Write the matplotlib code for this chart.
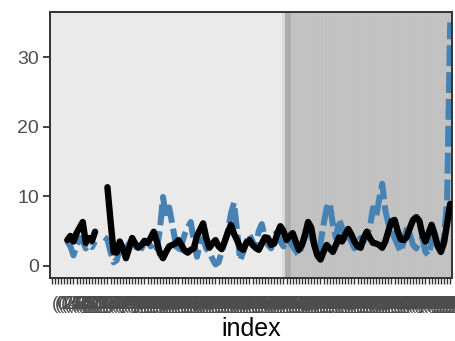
import numpy as np
import matplotlib
matplotlib.use("Agg")
import matplotlib.pyplot as plt

nan = np.nan
# index categories
index = list(range(130))
tick_labels = ["(%d,%d]" % (i, i + 1) for i in index]

black_vals = [nan, nan, nan, nan, nan,
    3.7, 4.3, 3.5, 4.7, 5.5, 6.3, 3.3, 4.0, 3.6, 4.9,
    nan, nan, nan,
    11.3, 6.5, 2.0, 1.9, 3.5, 2.5, 1.1, 2.5, 4.0, 3.2, 2.6, 3.0,
    3.6, 3.3, 4.0, 4.9, 3.5, 1.8, 1.1, 2.0, 2.8, 3.0,
    3.2, 3.7, 3.0, 2.2, 1.9, 2.3, 2.5, 4.3, 5.2, 6.1,
    4.0, 2.6, 3.2, 3.7, 2.8, 2.4, 3.5, 4.8, 5.9, 4.6,
    3.7, 2.6, 2.3, 3.3, 3.7, 3.0, 2.6, 2.3, 3.2, 4.1,
    4.0, 3.0, 3.2, 4.6, 5.7, 5.0, 3.7, 4.3, 4.7, 3.5,
    2.3, 3.0, 4.5, 6.3, 5.5, 3.0, 1.5, 0.9, 2.0, 3.0,
    2.5, 2.0, 3.0, 4.1, 3.5, 4.5, 5.3, 4.5, 3.5, 2.8,
    2.6, 4.0, 4.9, 4.0, 3.3, 3.2, 3.0, 2.6, 3.5, 5.0,
    6.4, 6.6, 5.0, 3.8, 3.7, 4.2, 5.5, 6.6, 7.0, 6.5,
    4.5, 3.5, 4.7, 5.9, 4.5, 2.8, 2.0, 3.3, 6.0, 8.9]

blue_vals = [nan, nan, nan, nan, nan,
    3.5, 2.8, 1.5, 3.0, 4.0, 3.5, 2.5, 3.0, 2.7, 3.5,
    nan, nan,
    4.1, 3.8, 2.0, 0.5, 0.8, 2.5, 3.0, 2.5, 3.2, 3.8, 3.0, 2.0, 2.5,
    3.3, 3.6, 2.8, 3.4, 2.5, 5.2, 9.9, 7.0, 8.4, 6.0,
    3.5, 1.8, 3.0, 4.5, 5.5, 6.3, 3.5, 1.3, 3.2, 4.0,
    2.5, 2.0, 1.0, 0.2, 0.5, 2.0, 3.5, 5.0, 7.5, 9.1,
    5.0, 0.8, 2.0, 3.5, 4.5, 3.5, 2.5, 5.0, 6.0, 4.0,
    3.0, 2.5, 4.5, 4.8, 3.5, 2.8, 4.0, 3.5, 2.8, 2.2,
    1.5, 3.0, 4.0, 5.5, 4.2, 3.0, 1.8, 3.2, 6.0, 8.3,
    9.1, 6.0, 4.0, 6.7, 5.5, 3.5, 4.5, 3.5, 2.5, 3.2,
    4.0, 3.5, 4.5, 5.5, 8.3, 7.0, 9.5, 11.8, 8.0, 6.0,
    5.0, 4.0, 3.0, 2.0, 3.5, 5.5, 4.5, 3.0, 2.5, 3.5,
    4.0, 2.0, 1.5, 3.5, 4.5, 3.0, 2.5, 4.0, 9.4, 35.0]

# shaded regions (in index units)
regions = [(-0.6, 74.5, "#EAEAEA"), (74.5, 75.5, "#DADADA"),
           (75.5, 77.5, "#ACACAC"), (77.5, 129.6, "#C1C1C1")]

plt.rcParams['font.family'] = ['Liberation Sans', 'DejaVu Sans']
fig = plt.figure(figsize=(4.56, 3.41), dpi=100)
ax = fig.add_axes([50/456, 1-278/341, 402/456, 266/341])
ax.set_facecolor("#EBEBEB")
for x0, x1, c in regions:
    ax.axvspan(x0, x1, color=c, lw=0, zorder=0)
for i in index:
    ax.axvline(i, color="white", alpha=0.04, lw=0.8, zorder=0.5)

x = np.array(index)
ax.plot(x, blue_vals, color="#4682B4", lw=4.3, dashes=(3.5, 1.0),
        solid_capstyle="butt", dash_capstyle="butt", zorder=2)
ax.plot(x, black_vals, color="black", lw=4.6, solid_joinstyle="round",
        solid_capstyle="round", zorder=3)

ax.set_xlim(-0.6, 129.6)
ax.set_ylim(-1.75, 36.5)
ax.set_yticks([0, 10, 20, 30])
ax.set_xticks(x)
ax.set_xticklabels(tick_labels, fontsize=13, color="#4D4D4D", ha="left")
ax.tick_params(axis="y", labelsize=14, labelcolor="#4D4D4D", color="#333333",
               length=5, width=1.3, pad=3)
ax.tick_params(axis="x", color="#333333", length=4, width=1.0, pad=9)
for s in ax.spines.values():
    s.set_color("#333333")
    s.set_linewidth(1.4)
ax.set_xlabel("index", fontsize=18, labelpad=3)
fig.savefig("out.png", dpi=100)
